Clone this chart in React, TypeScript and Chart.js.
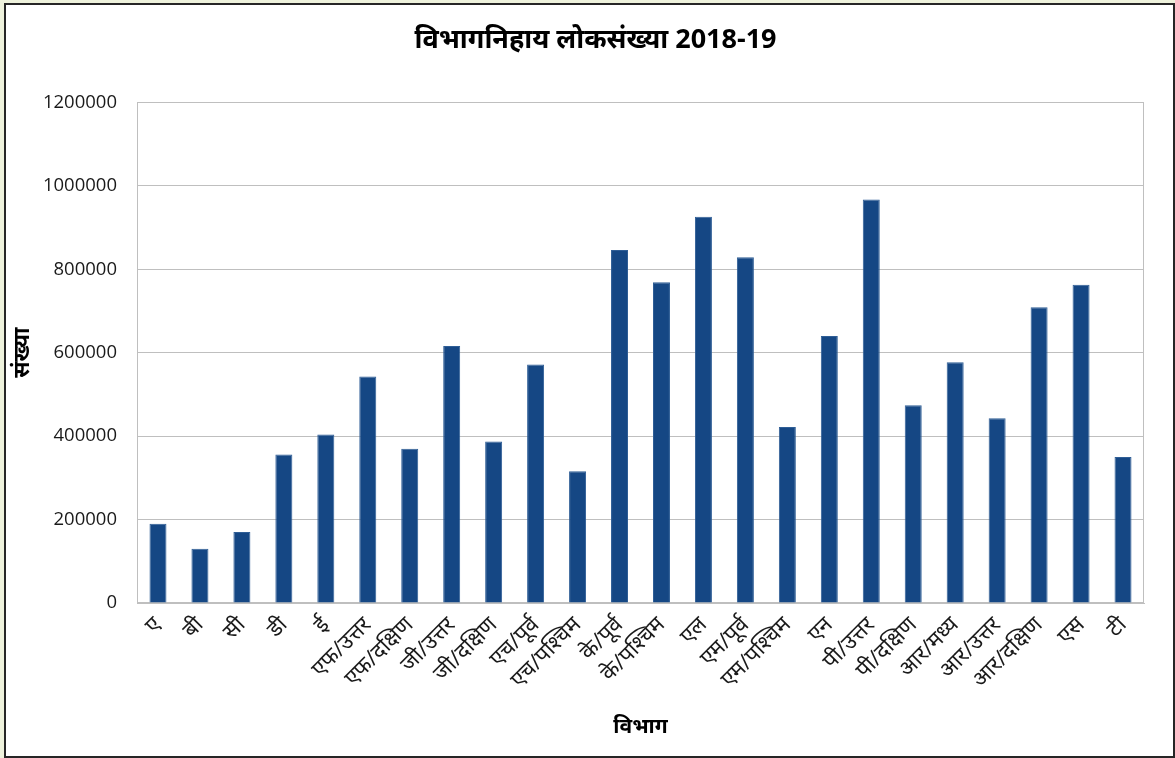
import React, { useEffect, useRef } from "react";
import { Chart, registerables } from "chart.js";

Chart.register(...registerables);

// Ward names (Mumbai municipal wards) and their 2018-19 population
const wards = [
  "ए", "बी", "सी", "डी", "ई",
  "एफ/उत्तर", "एफ/दक्षिण", "जी/उत्तर", "जी/दक्षिण",
  "एच/पूर्व", "एच/पश्चिम", "के/पूर्व", "के/पश्चिम",
  "एल", "एम/पूर्व", "एम/पश्चिम", "एन",
  "पी/उत्तर", "पी/दक्षिण", "आर/मध्य", "आर/उत्तर", "आर/दक्षिण",
  "एस", "टी",
];

const population = [
  190000, 130000, 170000, 356000, 404000,
  543000, 370000, 616000, 387000,
  572000, 316000, 846000, 769000,
  926000, 829000, 422000, 640000,
  967000, 474000, 577000, 443000, 709000,
  763000, 350000,
];

const yTickValues = [0, 200000, 400000, 600000, 800000, 1000000, 1200000];

const chartTitle = "विभागनिहाय लोकसंख्या 2018-19";
const xAxisTitle = "विभाग";
const yAxisTitle = "संख्या";

const FONT = "'Open Sans', 'Noto Sans', sans-serif";
const BAR_FILL = "#154784";
const BAR_EDGE = "#2f5e96";
const GRID = "#bfbfbf";

// Grey frame around the plotting area
const plotFrame = {
  id: "plotFrame",
  beforeDatasetsDraw(chart: any) {
    const { ctx, chartArea } = chart;
    const { left, top, right, bottom } = chartArea;
    ctx.save();
    ctx.strokeStyle = GRID;
    ctx.lineWidth = 1;
    ctx.strokeRect(
      Math.round(left) + 0.5,
      Math.round(top) + 0.5,
      Math.round(right - left) - 1,
      Math.round(bottom - top) - 1
    );
    ctx.restore();
  },
};

export default function App() {
  const canvasRef = useRef<HTMLCanvasElement | null>(null);

  useEffect(() => {
    document.body.style.margin = "0";
    const canvas = canvasRef.current;
    if (!canvas) return;

    const chart = new Chart(canvas, {
      type: "bar",
      data: {
        labels: wards,
        datasets: [
          {
            label: yAxisTitle,
            data: population,
            backgroundColor: BAR_FILL,
            borderColor: BAR_EDGE,
            borderWidth: 1,
            categoryPercentage: 1,
            barPercentage: 0.405,
            yAxisID: "y",
          },
        ],
      },
      options: {
        animation: false,
        responsive: false,
        maintainAspectRatio: false,
        layout: { padding: { left: 12, right: 0, top: 0, bottom: 0 } },
        plugins: {
          legend: { display: false },
          tooltip: { enabled: false },
          title: {
            display: true,
            text: chartTitle,
            color: "#000",
            font: { family: FONT, size: 27, weight: "bold" },
            padding: { top: 19, bottom: 46 },
          },
        },
        scales: {
          x: {
            grid: { display: false, drawTicks: false },
            border: { display: true, color: GRID, width: 1 },
            ticks: {
              color: "#1a1a1a",
              font: { family: FONT, size: 22 },
              minRotation: 45,
              maxRotation: 45,
              autoSkip: false,
              padding: 9,
            },
            title: {
              display: true,
              text: xAxisTitle,
              color: "#000",
              font: { family: FONT, size: 21, weight: "bold" },
              padding: { top: 0, bottom: 16 },
            },
            afterFit(scale: any) {
              scale.height = 153;
            },
          },
          y: {
            min: 0,
            max: 1200000,
            afterBuildTicks(scale: any) {
              scale.ticks = yTickValues.map((v) => ({ value: v }));
            },
            grid: { color: GRID, lineWidth: 1, drawTicks: false },
            border: { display: true, color: GRID, width: 1 },
            ticks: {
              color: "#1a1a1a",
              font: { family: FONT, size: 18.5 },
              padding: 20,
              callback: (v: any) => String(v),
            },
            title: {
              display: true,
              text: yAxisTitle,
              color: "#000",
              font: { family: FONT, size: 22, weight: "bold" },
              padding: { top: -8, bottom: 0 },
            },
            afterFit(scale: any) {
              scale.width = 119;
            },
          },
          // empty right-hand gutter between the plot frame and the outer border
          gutter: {
            type: "linear",
            position: "right",
            display: true,
            grid: { display: false, drawTicks: false },
            border: { display: false },
            ticks: { display: false },
            afterFit(scale: any) {
              scale.width = 29;
            },
          },
        },
      },
      plugins: [plotFrame],
    });

    return () => chart.destroy();
  }, []);

  return (
    <div
      style={{
        position: "fixed",
        left: 0,
        top: 0,
        width: 1175,
        height: 758,
        background: "#eef2dc",
      }}
    >
      <div
        style={{
          position: "absolute",
          left: 4,
          top: 3,
          width: 1171,
          height: 755,
          boxSizing: "border-box",
          border: "2px solid #262626",
          background: "#fff",
        }}
      >
        <canvas
          ref={canvasRef}
          width={1167}
          height={751}
          style={{ display: "block", width: 1167, height: 751 }}
        />
      </div>
    </div>
  );
}
